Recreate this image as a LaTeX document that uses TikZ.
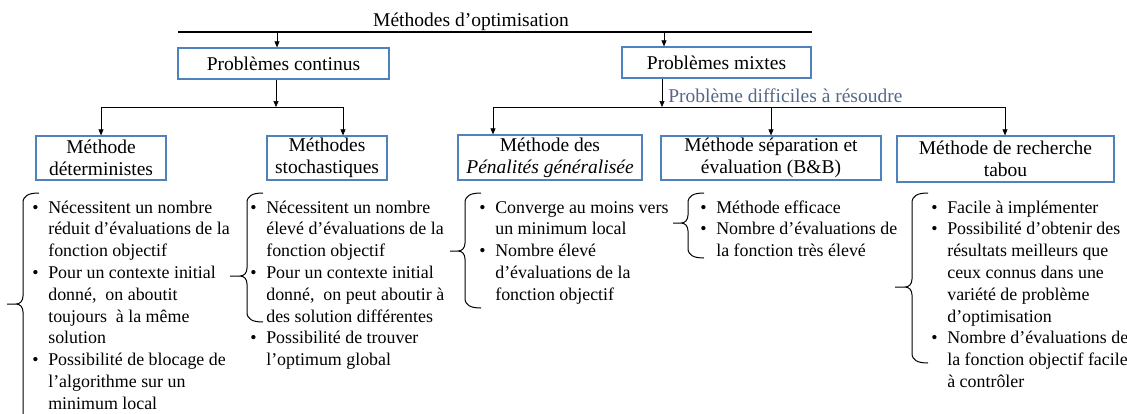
\documentclass[tikz,border=0pt]{standalone}
\usepackage{fontspec}
\setmainfont{Liberation Serif}
\usepackage{tikz}
\usetikzlibrary{positioning}
\usetikzlibrary{arrows.meta}
\definecolor{boxblue}{RGB}{79,129,189}
\definecolor{notegray}{RGB}{84,104,136}
\tikzset{main box/.style={draw=boxblue,line width=1.3pt,fill=white,align=center,inner sep=0pt,font=\fontsize{19.5}{21.7}\selectfont},
	list node/.style={anchor=base west,inner sep=0pt,font=\fontsize{17.9}{21.8}\selectfont},}
\newcommand{\bl}{\makebox[16pt][l]{\textbullet}}
\newcommand{\ct}{\hspace*{16pt}}
% brace: x of stem, top, y of tip, bottom, x of tip
\newcommand{\curly}[5]{%
	\draw[line width=1pt] (#1+16,#2) .. controls (#1+5,#2) and (#1,#2+3) .. (#1,#2+10)
	-- (#1,#3-8) .. controls (#1,#3-3) and (#1-3,#3) .. (#1-7,#3) -- (#5,#3)
	(#1-7,#3) .. controls (#1-3,#3) and (#1,#3+3) .. (#1,#3+8)
	-- (#1,#4-10) .. controls (#1,#4-3) and (#1+5,#4) .. (#1+16,#4);}

\begin{document}
\begin{tikzpicture}[x=1pt, y=-1pt, >={Triangle[length=6pt,width=5pt]}, semithick]
	\useasboundingbox (0,0) rectangle (1127,413);
	\clip (0,0) rectangle (1127,413);

	\node[font=\fontsize{19.5}{21.7}\selectfont, anchor=base] (title) at (471,26) {Méthodes d’optimisation};

	\node[main box, minimum width=211pt, minimum height=31pt] (cont) at (283.5,63.5) {Problèmes continus};
	\node[main box, minimum width=189pt, minimum height=31pt] (mixt) at (716.5,62.5) {Problèmes mixtes};

	\node[main box, minimum width=130pt, minimum height=44pt] (det) at (101,158) {Méthode\\déterministes};
	\node[main box, minimum width=120pt, minimum height=44pt] (sto) at (327,158) {Méthodes\\stochastiques};
	\node[main box, minimum width=184pt, minimum height=45pt] (pen) at (550,157.5) {Méthode des\\\textit{Pénalités généralisée}};
	\node[main box, minimum width=220pt, minimum height=44pt] (bb) at (771,158) {Méthode séparation et\\évaluation (B\&B)};
	\node[main box, minimum width=217pt, minimum height=46pt] (tabou) at (1005.5,159) {Méthode de recherche\\tabou};

	% bus lines
	\coordinate (ta) at (178,32);
	\coordinate (tb) at (812,32);
	\coordinate (tc) at (277,32);
	\coordinate (tm) at (664,32);
	\draw[line width=1.8pt] (ta) -- (tb);
	\draw[->] (tc) -- (tc |- cont.north);
	\draw[->] (tm) -- (tm |- mixt.north);

	\coordinate (jc) at (276,107);
	\coordinate (jd) at (101,107);
	\coordinate (js) at (343,107);
	\draw (jd) -- (js);
	\draw[->] (cont.south -| jc) -- (jc);
	\draw[->] (jd) -- (det.north -| jd);
	\draw[->] (js) -- (sto.north -| js);

	\coordinate (jm) at (662,107);
	\coordinate (jp) at (493,107);
	\coordinate (jb) at (771,107);
	\coordinate (jt) at (1005,107);
	\draw (jp) -- (jt);
	\draw[->] (mixt.south -| jm) -- node[right, text=notegray, font=\fontsize{19.5}{21.7}\selectfont, inner sep=6pt, yshift=-3pt] (hard) {Problème difficiles à résoudre} (jm);
	\draw[->] (jp) -- (pen.north -| jp);
	\draw[->] (jb) -- (bb.north -| jb);
	\draw[->] (jt) -- (tabou.north -| jt);

	% lists
	\node[list node] (ldet) at (32,213) {\begin{tabular}[t]{@{}l@{}}
		\bl Nécessitent un nombre\\
		\ct réduit d’évaluations de la\\
		\ct fonction objectif\\
		\bl Pour un contexte initial\\
		\ct donné,~ on aboutit\\
		\ct toujours~ à la même\\
		\ct solution\\
		\bl Possibilité de blocage de\\
		\ct l’algorithme sur un\\
		\ct minimum local
	\end{tabular}};
	\node[list node] (lsto) at (250,213) {\begin{tabular}[t]{@{}l@{}}
		\bl Nécessitent un nombre\\
		\ct élevé d’évaluations de la\\
		\ct fonction objectif\\
		\bl Pour un contexte initial\\
		\ct donné,~ on peut aboutir à\\
		\ct des solution différentes\\
		\bl Possibilité de trouver\\
		\ct l’optimum global
	\end{tabular}};
	\node[list node] (lpen) at (479,213) {\begin{tabular}[t]{@{}l@{}}
		\bl Converge au moins vers\\
		\ct un minimum local\\
		\bl Nombre élevé\\
		\ct d’évaluations de la\\
		\ct fonction objectif
	\end{tabular}};
	\node[list node] (lbb) at (700,213) {\begin{tabular}[t]{@{}l@{}}
		\bl Méthode efficace\\
		\bl Nombre d’évaluations de\\
		\ct la fonction très élevé
	\end{tabular}};
	\node[list node] (ltabou) at (931,213) {\begin{tabular}[t]{@{}l@{}}
		\bl Facile à implémenter\\
		\bl Possibilité d’obtenir des\\
		\ct résultats meilleurs que\\
		\ct ceux connus dans une\\
		\ct variété de problème\\
		\ct d’optimisation\\
		\bl Nombre d’évaluations de\\
		\ct la fonction objectif facile\\
		\ct à contrôler
	\end{tabular}};

	% braces
	\curly{23}{193}{304}{425}{7}
	\curly{247}{193}{276}{322}{230}
	\curly{465}{193}{251}{308}{450}
	\curly{688}{193}{223}{258}{673}
	\curly{912}{193}{287}{363}{895}
\end{tikzpicture}
\end{document}
